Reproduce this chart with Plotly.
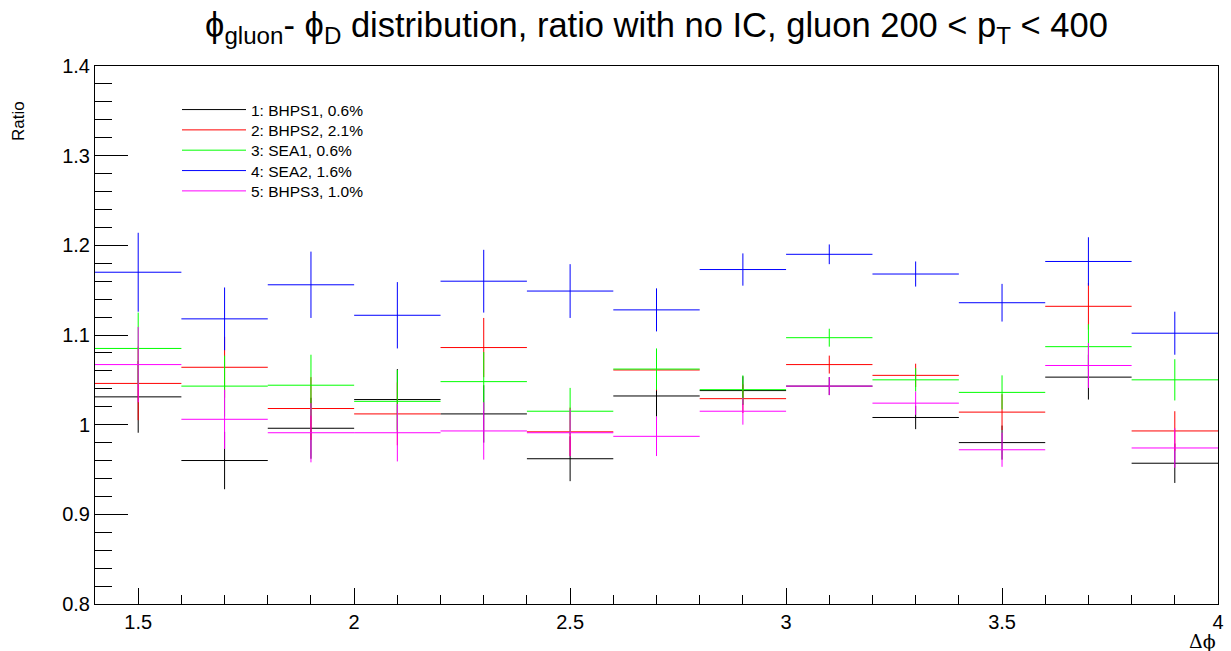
import plotly.graph_objects as go

# Bin centres (bin width 0.2, from 1.4 to 4.0)
x_centers = [1.5, 1.7, 1.9, 2.1, 2.3, 2.5, 2.7, 2.9, 3.1, 3.3, 3.5, 3.7, 3.9]
half_width = [0.1] * 13

names = ["1: BHPS1, 0.6%", "2: BHPS2, 2.1%", "3: SEA1, 0.6%", "4: SEA2, 1.6%", "5: BHPS3, 1.0%"]
colors = ["#000000", "#ff0000", "#00ff00", "#0000ff", "#ff00ff"]

bhps1 = [1.031, 0.960, 0.996, 1.028, 1.012, 0.962, 1.032, 1.038, 1.043, 1.008, 0.980, 1.053, 0.957]
bhps2 = [1.046, 1.064, 1.018, 1.012, 1.086, 0.992, 1.061, 1.029, 1.067, 1.055, 1.014, 1.132, 0.993]
sea1 = [1.085, 1.043, 1.044, 1.026, 1.048, 1.015, 1.062, 1.039, 1.097, 1.050, 1.036, 1.087, 1.050]
sea2 = [1.170, 1.118, 1.156, 1.122, 1.160, 1.149, 1.128, 1.173, 1.190, 1.168, 1.136, 1.182, 1.102]
bhps3 = [1.067, 1.006, 0.991, 0.991, 0.993, 0.991, 0.987, 1.015, 1.043, 1.024, 0.972, 1.066, 0.974]

err_bhps1 = [0.040, 0.032, 0.034, 0.034, 0.032, 0.025, 0.023, 0.016, 0.010, 0.013, 0.019, 0.025, 0.022]
err_bhps2 = [0.041, 0.034, 0.035, 0.035, 0.033, 0.027, 0.023, 0.016, 0.010, 0.013, 0.020, 0.026, 0.022]
err_sea1 = [0.040, 0.034, 0.034, 0.035, 0.033, 0.026, 0.023, 0.016, 0.010, 0.013, 0.019, 0.025, 0.023]
err_sea2 = [0.044, 0.035, 0.037, 0.037, 0.035, 0.030, 0.024, 0.018, 0.011, 0.014, 0.021, 0.027, 0.024]
err_bhps3 = [0.042, 0.033, 0.033, 0.032, 0.032, 0.026, 0.022, 0.015, 0.010, 0.013, 0.019, 0.025, 0.022]

series = [bhps1, bhps2, sea1, sea2, bhps3]
errors = [err_bhps1, err_bhps2, err_sea1, err_sea2, err_bhps3]

FONT = "Liberation Sans, Arial, Helvetica, sans-serif"
W, H = 1231, 651
ML, MR, MT, MB = 95, 13, 66, 47
PW, PH = W - ML - MR, H - MT - MB

fig = go.Figure()
for name, col, ys, es in zip(names, colors, series, errors):
    fig.add_trace(go.Scatter(
        x=x_centers, y=ys, mode="markers",
        marker=dict(size=0.1, color=col, opacity=0),
        error_x=dict(type="data", array=half_width, symmetric=True, width=0, thickness=1, color=col),
        error_y=dict(type="data", array=es, symmetric=True, width=0, thickness=1, color=col),
        showlegend=False, hoverinfo="skip",
    ))

# legend entries, each in its own legend box so the spacing matches the reference
legend_ids = ["legend", "legend2", "legend3", "legend4", "legend5"]
legend_y_px = [110, 130.3, 150.6, 171, 191.3]
for name, col, lid in zip(names, colors, legend_ids):
    fig.add_trace(go.Scatter(x=[None], y=[None], mode="lines", name=name,
                             line=dict(color=col, width=1), legend=lid))

legend_layout = {}
for lid, ypx in zip(legend_ids, legend_y_px):
    legend_layout[lid] = dict(
        x=(177 - ML) / PW, y=1 - (ypx - MT) / PH, xanchor="left", yanchor="middle",
        bgcolor="rgba(0,0,0,0)", borderwidth=0,
        font=dict(size=15.5, family=FONT, color="black"),
        itemwidth=64,
    )

fig.update_layout(
    width=W, height=H,
    paper_bgcolor="white", plot_bgcolor="white",
    margin=dict(l=ML, r=MR, t=MT, b=MB, autoexpand=False),
    font=dict(family=FONT, color="black"),
    title=dict(
        text="ϕ<sub>gluon</sub>- ϕ<sub>D</sub> distribution, ratio with no IC, gluon 200 &lt; p<sub>T</sub> &lt; 400",
        x=0.5, xref="paper", xanchor="center",
        y=1 - 25 / H, yref="container", yanchor="middle",
        font=dict(size=34.5, family=FONT, color="black"),
    ),
    showlegend=True,
    **legend_layout,
)

fig.update_xaxes(
    range=[1.4, 4.0], showgrid=False, zeroline=False, automargin=False,
    showline=True, mirror=True, linecolor="black", linewidth=1,
    ticks="inside", ticklen=16, tickcolor="black", tickwidth=1,
    tickvals=[1.5, 2, 2.5, 3, 3.5, 4], ticktext=["1.5", "2", "2.5", "3", "3.5", "4"],
    minor=dict(ticks="inside", ticklen=9, dtick=0.1, tick0=1.4, tickcolor="black", showgrid=False),
    tickfont=dict(size=20, family=FONT, color="black"),
)
fig.update_yaxes(
    range=[0.8, 1.4], showgrid=False, zeroline=False, automargin=False,
    showline=True, mirror=True, linecolor="black", linewidth=1,
    ticks="inside", ticklen=33, tickcolor="black", tickwidth=1,
    tickvals=[0.8, 0.9, 1.0, 1.1, 1.2, 1.3, 1.4], ticktext=["0.8", "0.9", "1", "1.1", "1.2", "1.3", "1.4"],
    minor=dict(ticks="inside", ticklen=17, dtick=0.02, tick0=0.8, tickcolor="black", showgrid=False),
    tickfont=dict(size=20, family=FONT, color="black"),
)

fig.add_annotation(text="Ratio", textangle=-90, xref="paper", yref="paper",
                   x=(18 - ML) / PW, y=1 - (99 - MT) / PH,
                   xanchor="center", yanchor="top", showarrow=False,
                   font=dict(size=17, family=FONT, color="black"))
fig.add_annotation(text="Δϕ", xref="paper", yref="paper",
                   x=1.0, y=-(628 - (H - MB)) / PH, xanchor="right", yanchor="top",
                   showarrow=False, font=dict(size=19, family="DejaVu Serif, serif", color="black"))

fig.write_html("out.html", config={"displayModeBar": False},
               post_script="document.body.style.margin='0';document.body.style.padding='0';")
